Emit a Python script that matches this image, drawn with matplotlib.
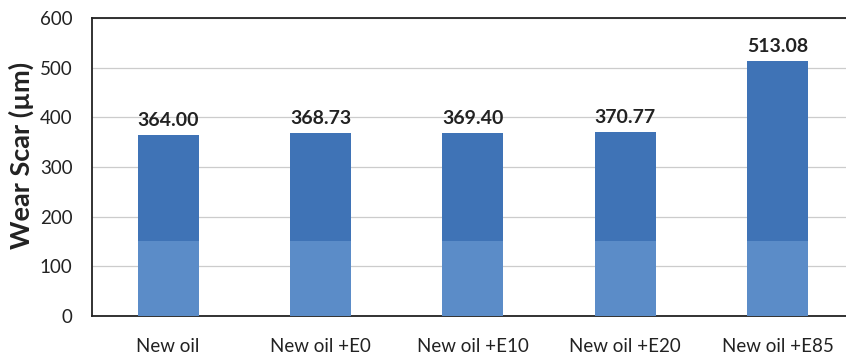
import matplotlib.pyplot as plt

# data
categories = ['New oil', 'New oil +E0', 'New oil +E10', 'New oil +E20', 'New oil +E85']
wear_scar = [364.00, 368.73, 369.40, 370.77, 513.08]

dark_blue = '#3f73b6'
light_blue = '#5b8cc8'
split = 150  # lower, lighter part of each bar

plt.rcParams['font.family'] = ['Lato', 'DejaVu Sans']

fig = plt.figure(figsize=(8.46, 3.56), dpi=100)
ax = fig.add_axes([0.1087, 0.1124, 0.9003, 0.837])

x = range(len(categories))
lower = [min(v, split) for v in wear_scar]
upper = [v - lo for v, lo in zip(wear_scar, lower)]
ax.bar(x, lower, width=0.4, color=light_blue, zorder=3)
ax.bar(x, upper, width=0.4, bottom=lower, color=dark_blue, zorder=3)

for xi, v in zip(x, wear_scar):
    ax.text(xi, v + 12, f'{v:.2f}', ha='center', va='bottom',
            fontsize=14, fontweight='bold', color='#222222')

ax.set_xlim(-0.5, 4.5)
ax.set_ylim(0, 600)
ax.set_yticks(range(0, 601, 100))
ax.set_xticks(list(x))
ax.set_xticklabels(categories)
ax.tick_params(axis='both', length=0, labelsize=13.5, colors='#222222')
ax.tick_params(axis='y', pad=14)
ax.tick_params(axis='x', pad=16)
ax.yaxis.grid(True, color='#cccccc', linewidth=0.9, zorder=0)

for side in ['top', 'left', 'bottom', 'right']:
    ax.spines[side].set_color('#222222')
    ax.spines[side].set_linewidth(1.3)

ax.set_ylabel('Wear Scar (µm)', fontsize=19.5, fontweight='bold', color='#222222')
ax.yaxis.set_label_coords(-0.076, 0.54)

fig.savefig('out.png', dpi=100)
